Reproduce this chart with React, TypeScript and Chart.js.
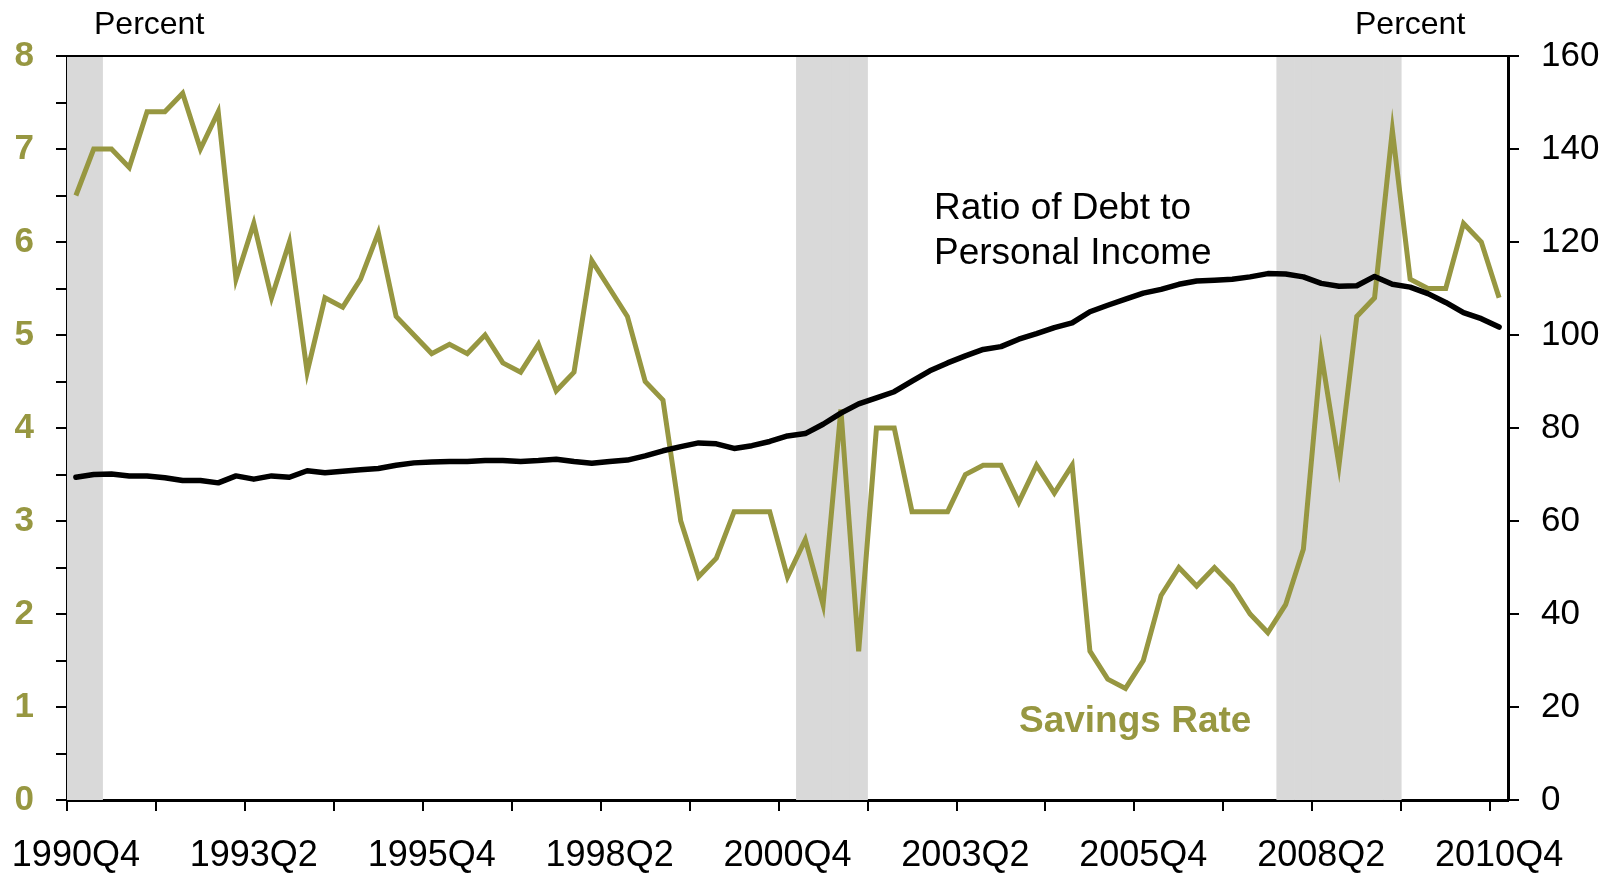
import React, { useEffect, useRef } from 'react';
import { Chart, registerables } from 'chart.js';

Chart.register(...registerables);

// Quarterly categories 1990Q4 .. 2010Q4
const quarters: string[] = (() => {
  const q: string[] = [];
  for (let y = 1990; y <= 2010; y++) {
    for (let k = 1; k <= 4; k++) {
      if (y === 1990 && k < 4) continue;
      q.push(`${y}Q${k}`);
    }
  }
  return q;
})();

const xTickLabels = ['1990Q4', '1993Q2', '1995Q4', '1998Q2', '2000Q4', '2003Q2', '2005Q4', '2008Q2', '2010Q4'];

const recessionQuarters = [
  '1990Q4', '1991Q1',
  '2001Q1', '2001Q2', '2001Q3', '2001Q4',
  '2007Q4', '2008Q1', '2008Q2', '2008Q3', '2008Q4', '2009Q1', '2009Q2',
];

// Personal savings rate, percent (left axis)
const savingsRate = [
  6.5, 7.0, 7.0, 6.8, 7.4, 7.4, 7.6, 7.0, 7.4, 5.6,
  6.2, 5.4, 6.0, 4.6, 5.4, 5.3, 5.6, 6.1, 5.2, 5.0,
  4.8, 4.9, 4.8, 5.0, 4.7, 4.6, 4.9, 4.4, 4.6, 5.8,
  5.5, 5.2, 4.5, 4.3, 3.0, 2.4, 2.6, 3.1, 3.1, 3.1,
  2.4, 2.8, 2.1, 4.2, 1.6, 4.0, 4.0, 3.1, 3.1, 3.1,
  3.5, 3.6, 3.6, 3.2, 3.6, 3.3, 3.6, 1.6, 1.3, 1.2,
  1.5, 2.2, 2.5, 2.3, 2.5, 2.3, 2.0, 1.8, 2.1, 2.7,
  4.8, 3.6, 5.2, 5.4, 7.2, 5.6, 5.5, 5.5, 6.2, 6.0,
  5.4,
];

// Ratio of debt to personal income, percent (right axis)
const debtToIncome = [
  69.4, 70.0, 70.1, 69.7, 69.7, 69.3, 68.7, 68.7, 68.2, 69.7,
  69.0, 69.7, 69.4, 70.8, 70.4, 70.7, 71.0, 71.3, 72.0, 72.5,
  72.7, 72.8, 72.8, 73.0, 73.0, 72.8, 73.0, 73.3, 72.8, 72.4,
  72.8, 73.1, 74.0, 75.1, 76.0, 76.8, 76.6, 75.6, 76.2, 77.1,
  78.3, 78.8, 80.8, 83.2, 85.2, 86.5, 87.8, 90.1, 92.3, 94.0,
  95.5, 96.9, 97.5, 99.1, 100.3, 101.6, 102.6, 105.0, 106.4, 107.7,
  109.0, 109.8, 110.9, 111.6, 111.8, 112.0, 112.5, 113.2, 113.1, 112.5,
  111.1, 110.5, 110.6, 112.6, 110.9, 110.3, 108.9, 107.0, 104.8, 103.5,
  101.7,
];

const OLIVE = '#979741';
const SHADE = '#d9d9d9';
const FONT = "'Liberation Sans', Arial, Helvetica, sans-serif";

const annotationPlugin = {
  id: 'annotations',
  afterDraw(chart: any) {
    const { ctx, chartArea } = chart;
    ctx.save();
    // thin top border
    ctx.beginPath();
    ctx.strokeStyle = '#000';
    ctx.lineWidth = 2;
    ctx.moveTo(chartArea.left, chartArea.top);
    ctx.lineTo(chartArea.right, chartArea.top);
    ctx.stroke();

    ctx.textBaseline = 'alphabetic';
    ctx.textAlign = 'left';
    ctx.fillStyle = '#000';
    ctx.font = `32px ${FONT}`;
    ctx.fillText('Percent', chartArea.left + 27, 34);
    ctx.fillText('Percent', chartArea.right - 153, 34);

    ctx.font = `37px ${FONT}`;
    ctx.fillText('Ratio of Debt to', 934, 219);
    ctx.fillText('Personal Income', 934, 264);

    ctx.fillStyle = OLIVE;
    ctx.font = `bold 37px ${FONT}`;
    ctx.fillText('Savings Rate', 1019, 732);
    ctx.restore();
  },
};

export default function App() {
  const canvasRef = useRef<HTMLCanvasElement | null>(null);

  useEffect(() => {
    const canvas = canvasRef.current;
    if (!canvas) return;
    const shade = quarters.map((q) => (recessionQuarters.includes(q) ? 1 : null));

    const chart = new Chart(canvas, {
      type: 'line',
      data: {
        labels: quarters,
        datasets: [
          {
            type: 'line',
            label: 'Ratio of Debt to Personal Income',
            data: debtToIncome,
            yAxisID: 'y1',
            borderColor: '#000',
            borderWidth: 5.5,
            borderCapStyle: 'round',
            borderJoinStyle: 'round',
            pointRadius: 0,
            tension: 0,
            order: 0,
          },
          {
            type: 'line',
            label: 'Savings Rate',
            data: savingsRate,
            yAxisID: 'y',
            borderColor: OLIVE,
            borderWidth: 5,
            borderJoinStyle: 'miter',
            pointRadius: 0,
            tension: 0,
            order: 1,
          },
          {
            type: 'bar',
            label: 'Recession',
            data: shade as any,
            yAxisID: 'yShade',
            backgroundColor: SHADE,
            borderWidth: 0,
            barPercentage: 1,
            categoryPercentage: 1,
            order: 5,
          } as any,
        ],
      },
      options: {
        responsive: false,
        animation: false,
        devicePixelRatio: 1,
        layout: { padding: { top: 56, left: 0, right: 0, bottom: 0 } },
        plugins: {
          legend: { display: false },
          tooltip: { enabled: false },
          title: { display: false },
        },
        scales: {
          x: {
            type: 'category',
            offset: true,
            z: 1,
            grid: {
              offset: true,
              drawOnChartArea: false,
              drawTicks: true,
              tickLength: 11,
              lineWidth: 2,
              color: (ctx: any) =>
                typeof ctx.index === 'number' && ctx.index % 5 === 0 ? '#000' : 'rgba(0,0,0,0)',
            },
            border: { display: true, color: '#000', width: 3 },
            ticks: {
              autoSkip: false,
              maxRotation: 0,
              minRotation: 0,
              padding: 23,
              color: '#000',
              font: { family: FONT, size: 36 },
              callback: (_v: any, i: number) => (xTickLabels.includes(quarters[i]) ? quarters[i] : ''),
            },
            afterFit: (s: any) => {
              s.height = 74;
              s.paddingLeft = 0;
              s.paddingRight = 0;
            },
          },
          y: {
            position: 'left',
            min: 0,
            max: 8,
            z: 1,
            grid: { drawOnChartArea: false, tickLength: 11, lineWidth: 2, color: '#000' },
            border: { display: true, color: '#000', width: 3 },
            ticks: {
              stepSize: 0.5,
              padding: 22,
              color: OLIVE,
              font: { family: FONT, size: 35, weight: 'bold' },
              callback: (v: any) => (Number.isInteger(Number(v)) ? String(v) : ''),
            },
            afterFit: (s: any) => {
              s.width = 67;
              s.paddingTop = 0;
              s.paddingBottom = 0;
            },
          },
          y1: {
            position: 'right',
            min: 0,
            max: 160,
            z: 1,
            grid: { drawOnChartArea: false, tickLength: 11, lineWidth: 2, color: '#000' },
            border: { display: true, color: '#000', width: 3 },
            ticks: {
              stepSize: 20,
              padding: 22,
              color: '#000',
              font: { family: FONT, size: 35 },
            },
            afterFit: (s: any) => {
              s.width = 109;
              s.paddingTop = 0;
              s.paddingBottom = 0;
            },
          },
          yShade: {
            display: false,
            min: 0,
            max: 1,
          },
        },
      } as any,
      plugins: [annotationPlugin],
    });

    return () => {
      chart.destroy();
    };
  }, []);

  return (
    <div style={{ position: 'fixed', left: 0, top: 0, width: 1617, height: 874, background: '#fff' }}>
      <canvas ref={canvasRef} width={1617} height={874} style={{ display: 'block' }} />
    </div>
  );
}
